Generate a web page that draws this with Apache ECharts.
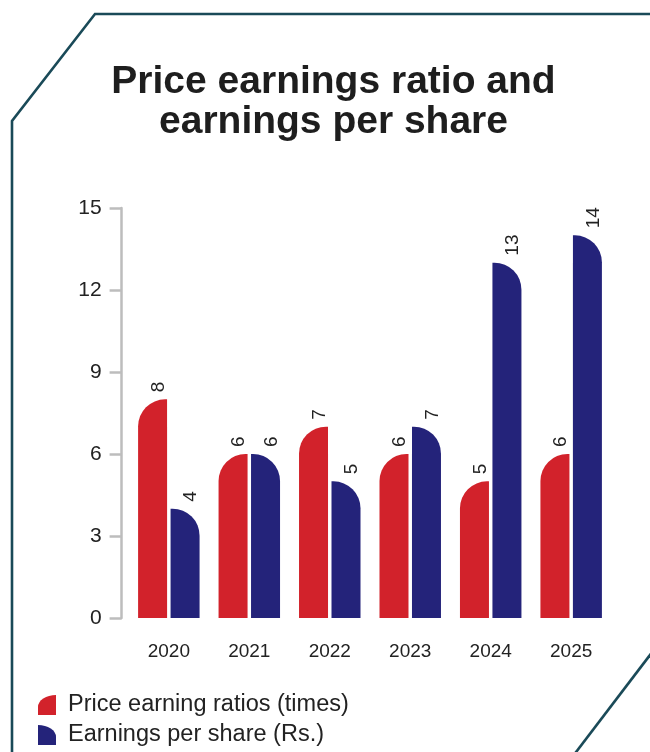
<!DOCTYPE html>
<html>
<head>
<meta charset="utf-8">
<script src="https://cdn.jsdelivr.net/npm/echarts@6/dist/echarts.min.js"></script>
<style>
  html, body { margin: 0; padding: 0; background: #ffffff; }
  #chart { width: 650px; height: 752px; }
</style>
</head>
<body>
<div id="chart"></div>
<script>
// Financial years on the category axis
const years = ['2020', '2021', '2022', '2023', '2024', '2025'];
// Price earnings ratio (times)
const peRatio = [8, 6, 7, 6, 5, 6];
// Earnings per share (Rs.)
const eps = [4, 6, 5, 7, 13, 14];
// Value axis range and step
const yMin = 0;
const yMax = 15;
const yStep = 3;

const seriesNames = ['Price earning ratios (times)', 'Earnings per share (Rs.)'];

const FONT = "'Liberation Sans', Arial, Helvetica, sans-serif";
const RED = '#d2222b';
const NAVY = '#24237a';
const FRAME = '#1a4a58';
const TEXT = '#222222';

const valueLabel = {
  show: true,
  position: 'top',
  rotate: 90,
  align: 'left',
  verticalAlign: 'middle',
  distance: 7,
  offset: [0, 6],
  fontFamily: FONT,
  fontSize: 19,
  color: TEXT
};

// One legend block per series, stacked under the plot
function legendBlock(name, icon, top) {
  return {
    orient: 'horizontal',
    left: 38,
    top: top,
    padding: 0,
    itemWidth: 20,
    itemHeight: 20,
    selectedMode: false,
    textStyle: {
      fontFamily: FONT,
      fontSize: 23.5,
      color: TEXT,
      padding: [0, 0, 0, 6]
    },
    data: [{ name: name, icon: icon }]
  };
}

const chart = echarts.init(document.getElementById('chart'), null, { renderer: 'canvas' });

chart.setOption({
  backgroundColor: '#ffffff',
  animation: false,
  title: {
    text: 'Price earnings ratio and\nearnings per share',
    left: 328.5,
    top: 57,
    textAlign: 'center',
    textStyle: {
      fontFamily: FONT,
      fontSize: 39,
      fontWeight: 'bold',
      color: '#1e1e1e',
      lineHeight: 40
    }
  },
  grid: {
    left: 128.6,
    right: 38.6,
    top: 208,
    bottom: 134,
    containLabel: false
  },
  legend: [
    legendBlock(seriesNames[0], 'path://M0,20 L0,12 A18,12 0 0 1 18,0 L18,20 Z', 693),
    legendBlock(seriesNames[1], 'path://M0,20 L0,0 A18,12 0 0 1 18,12 L18,20 Z', 723)
  ],
  xAxis: {
    type: 'category',
    data: years,
    axisLine: { show: false },
    axisTick: { show: false },
    axisLabel: {
      margin: 24,
      fontFamily: FONT,
      fontSize: 19,
      color: TEXT
    }
  },
  yAxis: {
    type: 'value',
    min: yMin,
    max: yMax,
    interval: yStep,
    offset: 7,
    splitLine: { show: false },
    axisLine: { show: true, lineStyle: { color: '#bdbdbd', width: 2.5 } },
    axisTick: { show: true, length: 12, lineStyle: { color: '#bdbdbd', width: 2.5 } },
    axisLabel: {
      margin: 20,
      fontFamily: FONT,
      fontSize: 21,
      color: TEXT
    }
  },
  series: [
    {
      name: seriesNames[0],
      type: 'bar',
      data: peRatio,
      barWidth: 29,
      barGap: '12%',
      itemStyle: { color: RED, borderRadius: [27, 0, 0, 0] },
      label: valueLabel
    },
    {
      name: seriesNames[1],
      type: 'bar',
      data: eps,
      barWidth: 29,
      barGap: '12%',
      itemStyle: { color: NAVY, borderRadius: [0, 27, 0, 0] },
      label: valueLabel
    }
  ],
  graphic: [
    {
      type: 'polyline',
      silent: true,
      shape: { points: [[12, 760], [12, 121], [95, 14], [660, 14]] },
      style: { stroke: FRAME, lineWidth: 2.6, fill: null, lineJoin: 'miter' }
    },
    {
      type: 'line',
      silent: true,
      shape: { x1: 658, y1: 644.5, x2: 570, y2: 760 },
      style: { stroke: FRAME, lineWidth: 2.6 }
    }
  ]
});
</script>
</body>
</html>
